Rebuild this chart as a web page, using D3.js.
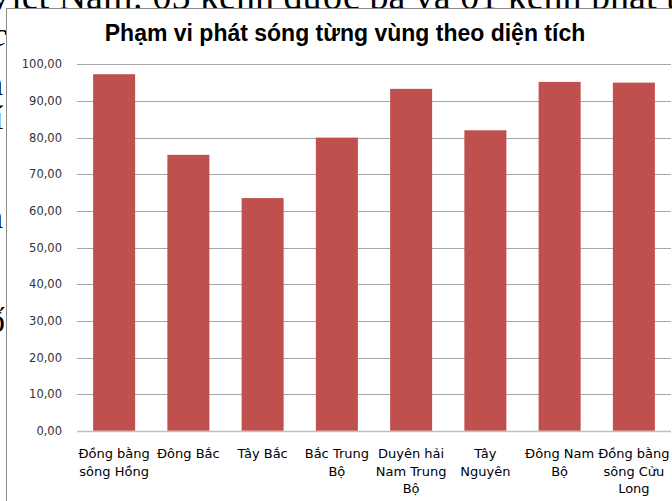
<!DOCTYPE html>
<html>
<head>
<meta charset="utf-8">
<script src="https://cdn.jsdelivr.net/npm/d3@7"></script>
<style>
  body { margin: 0; background: #fff; }
  svg { display: block; }
</style>
</head>
<body>
<script>
// data
const categories = ["Đồng bằng sông Hồng", "Đông Bắc", "Tây Bắc", "Bắc Trung Bộ",
  "Duyên hải Nam Trung Bộ", "Tây Nguyên", "Đông Nam Bộ", "Đồng bằng sông Cửu Long"];
const labelLines = [["Đồng bằng", "sông Hồng"], ["Đông Bắc"], ["Tây Bắc"], ["Bắc Trung", "Bộ"],
  ["Duyên hải", "Nam Trung", "Bộ"], ["Tây", "Nguyên"], ["Đông Nam", "Bộ"], ["Đồng bằng", "sông Cửu", "Long"]];
const values = [97.3, 75.3, 63.5, 80.0, 93.3, 82.0, 95.2, 95.0];
const yTicks = [0, 10, 20, 30, 40, 50, 60, 70, 80, 90, 100];
const title = "Phạm vi phát sóng từng vùng theo diện tích";

var width = 672, height = 501;
let svg = d3.select("body").append("svg")
  .attr("width", width)
  .attr("height", height);

// document text peeking out behind the chart box
svg.append("text")
  .attr("x", -14).attr("y", 9)
  .attr("font-family", "Liberation Serif").attr("font-size", 38)
  .attr("fill", "#000")
  .text("Việt Nam: 05 kênh được ba và 01 kênh phát thanh");
const sideBits = [["c", -8, 46, "italic"], ["h", -14, 95, "normal"], ["í", -6, 129, "normal"],
  ["n", -14, 228, "normal"], ["ố", -12, 332, "normal"]];
svg.selectAll("text.side")
  .data(sideBits)
  .join("text")
  .attr("class", "side")
  .attr("x", d => d[1]).attr("y", d => d[2])
  .attr("font-family", "Liberation Serif").attr("font-size", 34)
  .attr("font-style", d => d[3])
  .attr("fill", "#000")
  .text(d => d[0]);

// chart box
svg.append("rect")
  .attr("x", 6.5).attr("y", 8.5)
  .attr("width", 700).attr("height", 600)
  .attr("fill", "#fff").attr("stroke", "#8c8c8c");

svg.append("text")
  .attr("x", 345).attr("y", 41)
  .attr("text-anchor", "middle")
  .attr("font-family", "Liberation Sans").attr("font-weight", "bold")
  .attr("font-size", 23)
  .text(title);

const left = 77, right = 671;
let x = d3.scaleBand().domain(categories).range([left, right]).paddingInner(0.434).paddingOuter(0.217);
let y = d3.scaleLinear().domain([0, 100]).range([430.8, 64.3]);

const loc = d3.formatLocale({ decimal: ",", thousands: ".", grouping: [3], currency: ["", ""] });

let yAxis = svg.append("g")
  .attr("transform", `translate(${left},0)`)
  .call(d3.axisLeft(y).tickValues(yTicks).tickFormat(loc.format(".2f"))
    .tickSize(-(right - left)).tickPadding(15));
yAxis.select(".domain").remove();
yAxis.selectAll(".tick line").attr("stroke", "#a6a6a6").attr("shape-rendering", "crispEdges");
yAxis.selectAll(".tick text")
  .attr("fill", "#333").attr("font-family", "DejaVu Sans").attr("font-size", 11.5);

svg.selectAll("rect.bar")
  .data(values)
  .join("rect")
  .attr("class", "bar")
  .attr("x", (d, i) => x(categories[i]))
  .attr("y", d => y(d))
  .attr("width", x.bandwidth())
  .attr("height", d => y(0) - y(d))
  .attr("fill", "#c0504d");

// category axis
svg.append("line")
  .attr("x1", left).attr("x2", right)
  .attr("y1", Math.round(y(0)) + 0.5).attr("y2", Math.round(y(0)) + 0.5)
  .attr("stroke", "#bfbfbf").attr("stroke-width", 1.5);

let xl = svg.selectAll("text.cat")
  .data(categories)
  .join("text")
  .attr("class", "cat")
  .attr("text-anchor", "middle")
  .attr("font-family", "DejaVu Sans").attr("font-size", 13)
  .attr("fill", "#000");
xl.each(function (d, i) {
  const cx = x(d) + x.bandwidth() / 2;
  d3.select(this).selectAll("tspan")
    .data(labelLines[i])
    .join("tspan")
    .attr("x", cx)
    .attr("y", (t, j) => 458 + j * 17.5)
    .text(t => t);
});
</script>
</body>
</html>
